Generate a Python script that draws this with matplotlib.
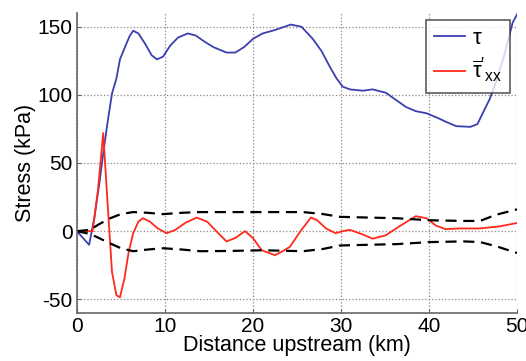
import matplotlib
matplotlib.use("Agg")
import matplotlib.pyplot as plt

plt.rcParams['font.family'] = ['Liberation Sans', 'DejaVu Sans']
plt.rcParams['mathtext.fontset'] = 'custom'
plt.rcParams['mathtext.rm'] = 'Liberation Sans'
plt.rcParams['mathtext.it'] = 'Liberation Sans'
plt.rcParams['axes.unicode_minus'] = False

# tau (blue)
tau_x = [0, 0.7, 1.4, 2.0, 2.6, 3.0, 3.5, 4.0, 4.5, 4.9, 5.6, 6.0, 6.4, 7.0, 7.8, 8.5, 9.1, 9.8, 10.6, 11.5, 12.6,
         13.5, 14.5, 15.5, 17.0, 18.0, 19.0, 20.0, 21.1, 22.5, 24.3, 25.5, 26.8, 27.8, 28.7, 29.5, 30.2, 31.0,
         32.5, 33.6, 35.1, 36.3, 37.4, 38.5, 39.7, 41.0, 42.0, 43.1, 44.7, 45.5, 46.1, 46.9, 47.6, 48.5, 49.5, 50.0]
tau_y = [0, -5, -10, 10, 37, 57, 80, 101, 112, 126, 137, 143, 147, 145, 137, 129, 126, 128, 136, 142, 145,
         143.5, 139, 135, 131, 131, 135, 141, 145, 147.5, 151.5, 150, 141, 132, 121, 112, 106, 104,
         103, 104, 101.5, 96, 91, 88, 86.5, 83, 80, 77, 76.5, 78.5, 86.5, 97, 109, 128, 153, 159]

# tau'_xx (red)
txx_x = [0, 1.0, 1.8, 2.4, 3.0, 3.5, 4.0, 4.5, 4.9, 5.4, 5.9, 6.4, 7.0, 7.5, 8.3, 9.2, 10.2, 11.2, 12.3, 13.6,
         14.8, 16.0, 17.0, 18.0, 19.1, 20.0, 21.0, 22.5, 23.3, 24.2, 25.4, 26.6, 27.3, 28.3, 29.4, 30.2, 31.0,
         32.3, 33.6, 35.1, 36.5, 38.5, 39.7, 40.8, 41.9, 43.5, 45.8, 48.0, 50.0]
txx_y = [0, 0, 0, 30, 72, 20, -30, -47, -48.5, -35, -15, -1.5, 7, 9.5, 7, 2, -1.5, 1, 6, 10,
         7, -1, -7.5, -5, 0, -5, -14, -17.6, -15, -11.5, 0, 10, 8, 2, -1.5, 0, 1,
         -2, -5.5, -3, 3, 11, 9.5, 4, 1.5, 2, 2, 3.5, 6]

# envelope (black dashed)
env_x = [0, 1.5, 2.5, 3.8, 5.0, 6.4, 8.0, 9.8, 12.0, 14.0, 17.5, 21.1, 25.7, 28.0, 29.9, 33.0, 36.3, 40.1, 43.9, 45.8, 47.6, 50.0]
env_up = [0, 1, 5, 9.5, 12.5, 14, 13.5, 12.5, 13.5, 14, 14, 14, 14, 12.5, 10.5, 10, 9.5, 8, 7.5, 7.5, 12, 16]
env_lo = [0, -2, -5, -9, -12.5, -14.7, -13.5, -12.5, -13.5, -14.7, -14.5, -14, -14.7, -13, -10.5, -10, -9.5, -8, -7.5, -8, -11, -16]

fig = plt.figure(figsize=(5.26, 3.61), dpi=100)
ax = fig.add_axes([0.146, 0.133, 0.837, 0.831])

ax.plot(tau_x, tau_y, color='#3b3fb0', lw=1.3, label=r'$\tau$')
ax.plot(txx_x, txx_y, color='#ff2a1a', lw=1.3, label=r"$\overline{\tau}'_{xx}$")
ax.plot(env_x, env_up, color='black', lw=1.6, ls=(0, (5, 3)))
ax.plot(env_x, env_lo, color='black', lw=1.6, ls=(0, (5, 3)))

ax.set_xlim(0, 50)
ax.set_ylim(-60, 160)
ax.set_xticks([0, 10, 20, 30, 40, 50])
ax.set_yticks([-50, 0, 50, 100, 150])
ax.grid(True, ls=':', color='#888888', lw=0.9)
for s in ['top', 'right']:
    ax.spines[s].set_visible(False)
for s in ['left', 'bottom']:
    ax.spines[s].set_color('#666666')
    ax.spines[s].set_linewidth(1.2)
ax.tick_params(direction='in', labelsize=15, length=3, color='#666666', pad=3)
ax.set_xlabel('Distance upstream (km)', fontsize=15.5, labelpad=-1)
ax.set_ylabel('Stress (kPa)', fontsize=15.5, labelpad=1)

leg = ax.legend(loc='upper right', bbox_to_anchor=(0.993, 0.99), fontsize=16, frameon=True,
                fancybox=False, edgecolor='#333333', handlelength=1.4, handletextpad=0.3,
                borderpad=0.35, labelspacing=0.3, borderaxespad=0.2)
leg.get_frame().set_linewidth(1.2)

fig.savefig('out.png', dpi=100)
